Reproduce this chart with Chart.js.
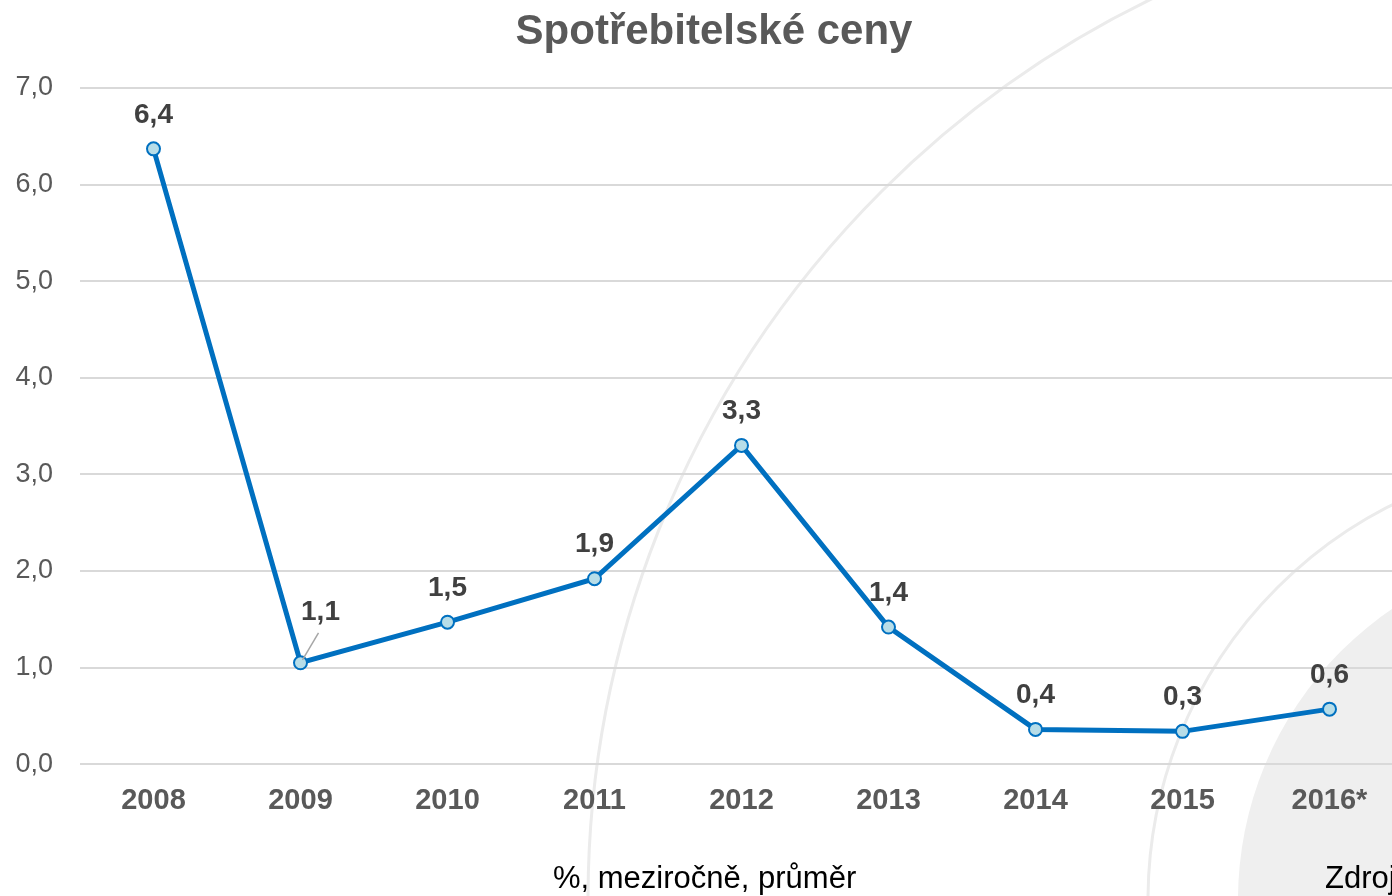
<!DOCTYPE html>
<html>
<head>
<meta charset="utf-8">
<script src="https://cdn.jsdelivr.net/npm/chart.js@4/dist/chart.umd.min.js"></script>
<style>
  html, body { margin: 0; padding: 0; background: #fff; overflow: hidden; }
  #wrap { position: relative; width: 1428px; height: 896px; }
  .note { position: absolute; font-family: "Liberation Sans", Arial, sans-serif; font-size: 31px; color: #000; white-space: nowrap; }
</style>
</head>
<body>
<div id="wrap">
  <canvas id="chart" width="1428" height="896"></canvas>
  <div class="note" style="left:553px; top:860px;">%, meziročně, průměr</div>
  <div class="note" style="left:1325px; top:860px;">Zdroj</div>
</div>
<script>
//Data
const years = ['2008', '2009', '2010', '2011', '2012', '2013', '2014', '2015', '2016*'];
const inflation = [6.37, 1.05, 1.47, 1.92, 3.30, 1.42, 0.36, 0.34, 0.57];
const yTicks = [0, 1, 2, 3, 4, 5, 6, 7];
const chartTitle = 'Spotřebitelské ceny';

const fmt = v => v.toFixed(1).replace('.', ',');
const ctx = document.getElementById('chart');
const FONT = '"Liberation Sans", Arial, sans-serif';

// faint circles behind the chart (decoration from the original slide) + title
const backdrop = {
    id: 'backdrop',
    beforeDraw(chart) {
        const c = chart.ctx;
        c.save();
        c.fillStyle = '#fff';
        c.fillRect(0, 0, chart.width, chart.height);
        c.fillStyle = '#efefef';
        c.beginPath();
        c.arc(1590, 900, 352, 0, Math.PI * 2);
        c.fill();
        c.strokeStyle = '#ebebeb';
        c.lineWidth = 3;
        c.beginPath();
        c.arc(1590, 900, 442, 0, Math.PI * 2);
        c.stroke();
        c.beginPath();
        c.arc(1590, 900, 1002, 0, Math.PI * 2);
        c.stroke();
        // title, centred on the full (uncropped) slide width
        c.font = 'bold 42px ' + FONT;
        c.fillStyle = '#595959';
        c.textAlign = 'center';
        c.textBaseline = 'middle';
        c.fillText(chartTitle, chart.width / 2, 32);
        c.restore();
    }
};

// value labels above the points, 2009 moved aside with a leader line
const valueLabels = {
    id: 'valueLabels',
    afterDatasetsDraw(chart) {
        const c = chart.ctx;
        const pts = chart.getDatasetMeta(0).data;
        c.save();
        c.font = 'bold 28px ' + FONT;
        c.fillStyle = '#404040';
        c.textAlign = 'center';
        c.textBaseline = 'middle';
        pts.forEach((p, i) => {
            let dx = 0, dy = -34;
            if (i == 1) {
                dx = 20; dy = -50;
                c.strokeStyle = '#a6a6a6';
                c.lineWidth = 1.5;
                c.beginPath();
                c.moveTo(p.x + 18, p.y - 30);
                c.lineTo(p.x + 2, p.y - 3);
                c.stroke();
            }
            c.fillText(fmt(inflation[i]), p.x + dx, p.y + dy);
        });
        c.restore();
    }
};

const config = {
    type: 'line',
    data: {
        labels: years,
        datasets: [{
            label: chartTitle,
            data: inflation,
            borderColor: '#0070c0',
            borderWidth: 5,
            tension: 0,
            pointRadius: 6.5,
            pointBorderWidth: 2,
            pointBackgroundColor: '#b7dde8',
            pointBorderColor: '#0070c0'
        }]
    },
    options: {
        responsive: false,
        animation: false,
        layout: { padding: { left: 0, right: 25, top: 88, bottom: 59 } },
        plugins: {
            legend: { display: false },
            tooltip: { enabled: false },
            title: { display: false }
        },
        scales: {
            x: {
                offset: true,
                grid: { display: false, drawTicks: false },
                border: { display: false },
                ticks: {
                    color: '#595959',
                    padding: 19,
                    font: { family: FONT, size: 29, weight: 'bold' }
                }
            },
            y: {
                min: yTicks[0],
                max: yTicks[yTicks.length - 1],
                afterBuildTicks: axis => { axis.ticks = yTicks.map(v => ({ value: v })); },
                afterFit: axis => { axis.width = 80; },
                grid: { color: '#d9d9d9', lineWidth: 2, drawTicks: false },
                border: { display: false },
                ticks: {
                    color: '#595959',
                    padding: 27,
                    font: { family: FONT, size: 27 },
                    callback: v => fmt(v)
                }
            }
        }
    },
    plugins: [backdrop, valueLabels]
};

new Chart(ctx, config);
</script>
</body>
</html>
